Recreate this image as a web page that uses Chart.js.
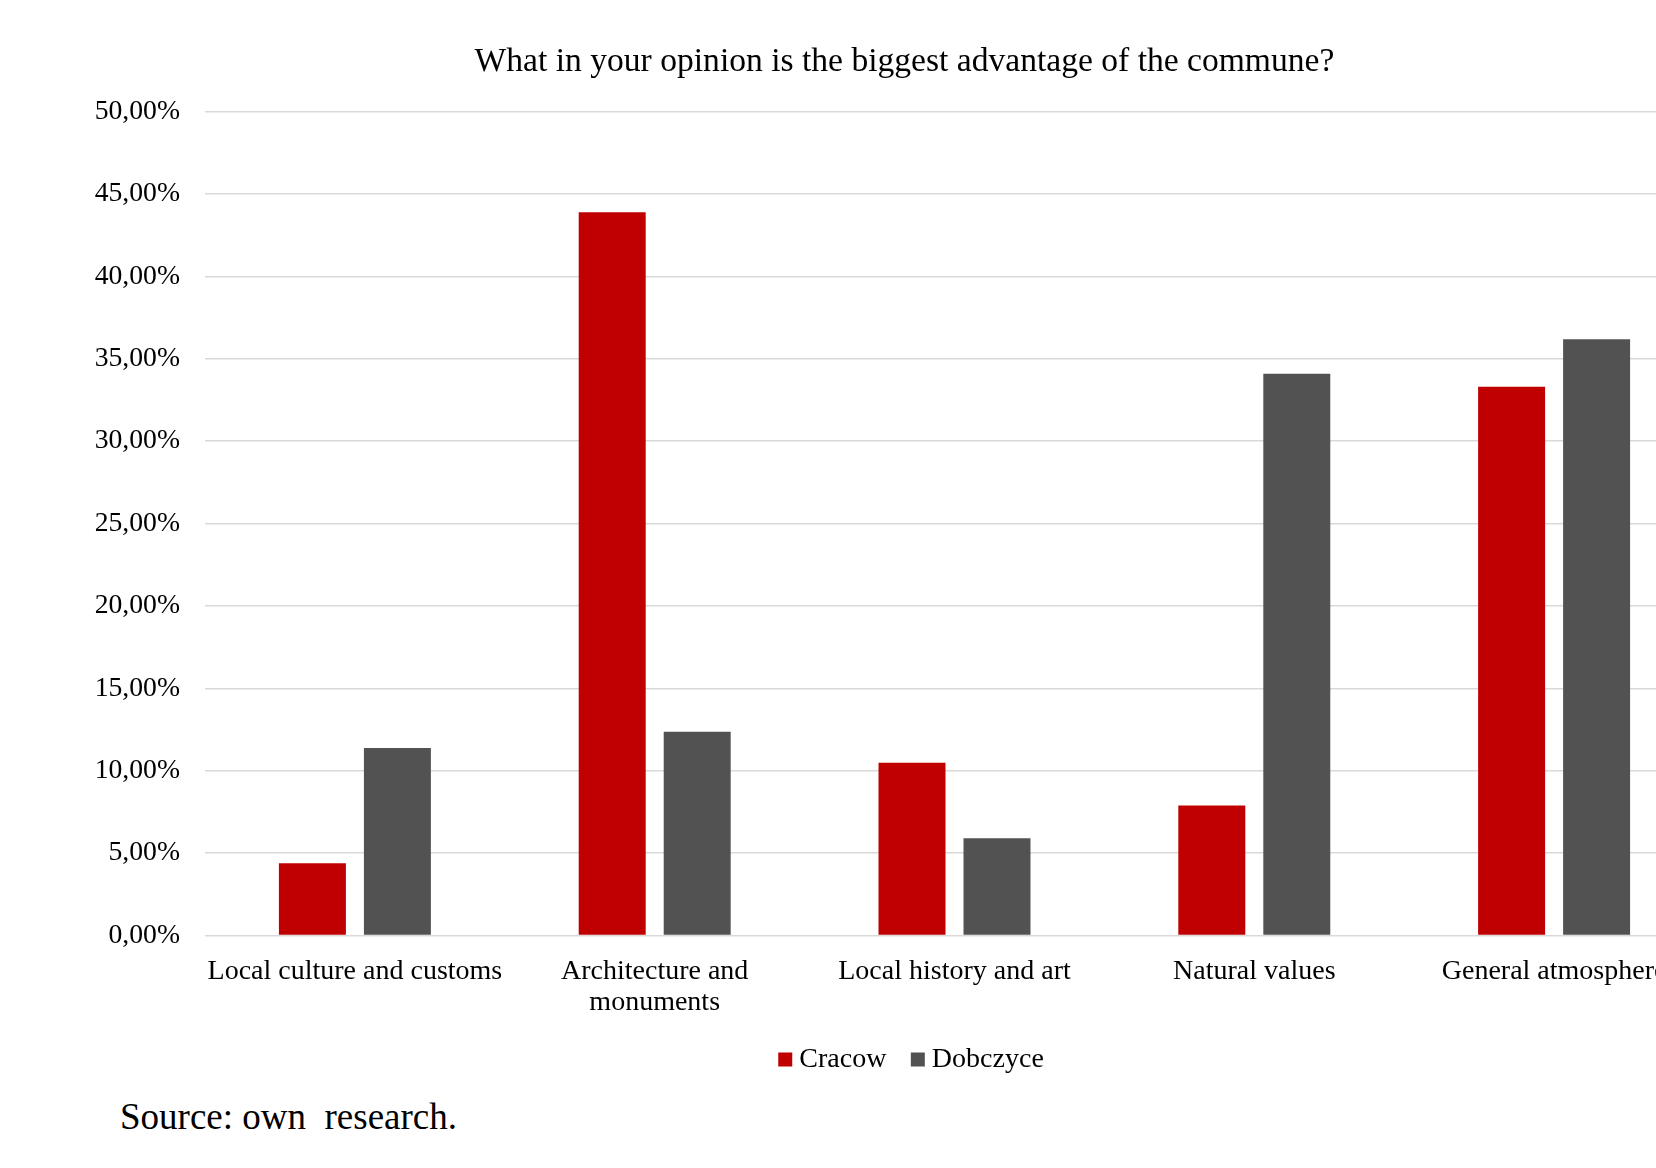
<!DOCTYPE html>
<html>
<head>
<meta charset="utf-8">
<script src="https://cdn.jsdelivr.net/npm/chart.js@4.4.1/dist/chart.umd.min.js"></script>
<style>
  html, body { margin: 0; padding: 0; background: #ffffff; overflow: hidden; width: 1656px; height: 1168px; }
  #wrap { position: absolute; left: 0; top: 0; width: 1808px; height: 1089px; }
  #source { position: absolute; left: 120px; top: 1098px; font-family: 'Liberation Serif', 'Times New Roman', serif; font-size: 37px; line-height: 37px; color: #000; white-space: pre; }
</style>
</head>
<body>
<div id="wrap"><canvas id="c" width="1808" height="1089"></canvas></div>
<div id="source">Source: own  research.</div>
<script>
const titleText = 'What in your opinion is the biggest advantage of the commune?';
const categories = [
  'Local culture and customs',
  ['Architecture and', 'monuments'],
  'Local history and art',
  'Natural values',
  'General atmosphere'
];
const seriesNames = ['Cracow', 'Dobczyce'];
const cracow = [4.39, 43.89, 10.49, 7.90, 33.29];
const dobczyce = [11.38, 12.37, 5.90, 34.08, 36.18];
const yTicks = [0, 5, 10, 15, 20, 25, 30, 35, 40, 45, 50];

const serif = "'Liberation Serif', 'Times New Roman', serif";
Chart.defaults.font.family = serif;
Chart.defaults.color = '#000000';

// Small nudges of the title and legend boxes (layout only)
const nudgeBoxes = {
  id: 'nudgeBoxes',
  afterLayout(chart) {
    if (chart.titleBlock) { chart.titleBlock.left += 5; chart.titleBlock.right += 5; }
    if (chart.legend) {
      chart.legend.left += 15; chart.legend.right += 15;
      chart.legend.top -= 5.5; chart.legend.bottom -= 5.5;
    }
  }
};

new Chart(document.getElementById('c'), {
  type: 'bar',
  data: {
    labels: categories,
    datasets: [
      { label: seriesNames[0], data: cracow, backgroundColor: '#C00000', borderWidth: 0,
        categoryPercentage: 0.567, barPercentage: 0.788 },
      { label: seriesNames[1], data: dobczyce, backgroundColor: '#525252', borderWidth: 0,
        categoryPercentage: 0.567, barPercentage: 0.788 }
    ]
  },
  plugins: [nudgeBoxes],
  options: {
    responsive: false,
    animation: false,
    layout: { padding: { left: 95, right: 104, top: 0, bottom: 0 } },
    plugins: {
      title: {
        display: true,
        text: titleText,
        font: { size: 33.6, weight: 'normal', family: serif, lineHeight: 1.2 },
        color: '#000000',
        padding: { top: 41.6, bottom: 29.5 }
      },
      legend: {
        display: true,
        position: 'bottom',
        labels: {
          usePointStyle: true,
          pointStyle: 'rect',
          boxWidth: 0.1,
          boxHeight: 14,
          padding: 31.4,
          font: { size: 28, family: serif },
          color: '#000000'
        }
      },
      tooltip: { enabled: false }
    },
    scales: {
      x: {
        grid: { display: false, drawTicks: false },
        border: { display: false },
        ticks: {
          autoSkip: false,
          maxRotation: 0,
          minRotation: 0,
          padding: 20,
          font: { size: 28, family: serif, lineHeight: 1.13 },
          color: '#000000'
        },
        afterFit: (s) => { s.height = 84; }
      },
      y: {
        min: 0,
        max: 50,
        afterBuildTicks: (s) => { s.ticks = yTicks.map(v => ({ value: v })); },
        grid: { color: '#D9D9D9', lineWidth: 1.5, drawTicks: false },
        border: { display: false },
        ticks: {
          padding: 25,
          font: { size: 27.7, family: serif },
          color: '#000000',
          callback: (v) => Number(v).toFixed(2).replace('.', ',') + '%'
        },
        afterFit: (s) => { s.width = 110; }
      }
    }
  }
});
</script>
</body>
</html>
